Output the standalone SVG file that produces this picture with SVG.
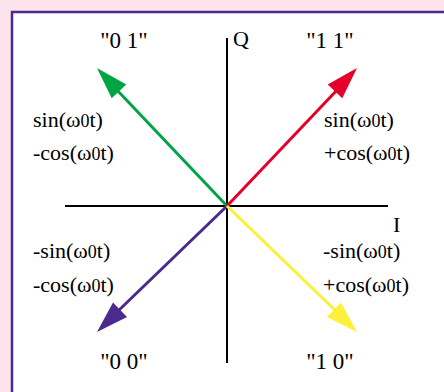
<svg xmlns="http://www.w3.org/2000/svg" width="444" height="392" viewBox="0 0 444 392">
<style>
text{font-family:"Liberation Serif","Times New Roman","DejaVu Serif",serif;fill:#000}
.q{font-size:23px;text-anchor:middle}
.l{font-size:22px}
.s{font-size:18px}
.ax{stroke:#000;stroke-width:2;fill:none}
</style>
<rect x="0" y="0" width="444" height="392" fill="#fde4ec"/>
<rect x="12" y="12" width="440" height="390" fill="#fff" stroke="#4a2a8c" stroke-width="2.5"/>
<g id="axes">
<line class="ax" x1="227" y1="38" x2="227" y2="363"/>
<line class="ax" x1="65" y1="206" x2="388" y2="206"/>
<text x="233" y="46" style="font-size:22px">Q</text>
<text x="393" y="232" style="font-size:22px">I</text>
</g>
<g id="connectors" stroke-width="3">
<line x1="227" y1="206" x2="116" y2="89" stroke="#00a444"/>
<polygon points="97,68 126.3,84.4 111.7,98.2" fill="#00a444"/>
<line x1="227" y1="206" x2="338" y2="89" stroke="#e4002b"/>
<polygon points="357,68 342.3,98.2 327.7,84.4" fill="#e4002b"/>
<line x1="227" y1="206" x2="117" y2="312" stroke="#4a2a8c"/>
<polygon points="97,332 127,316.9 113,302.5" fill="#4a2a8c"/>
<line x1="227" y1="206" x2="337" y2="312" stroke="#fbf03a"/>
<polygon points="357,332 327,316.9 341,302.5" fill="#fbf03a"/>
</g>
<g id="n01"><text class="q" x="124" y="48">"0 1"</text></g>
<g id="n11"><text class="q" x="330" y="48">"1 1"</text></g>
<g id="n00"><text class="q" x="124" y="369">"0 0"</text></g>
<g id="n10"><text class="q" x="330" y="369">"1 0"</text></g>
<g id="l01">
<text class="l" x="33" y="127">sin(ω<tspan class="s">0</tspan>t)</text>
<text class="l" x="33" y="160">-cos(ω<tspan class="s">0</tspan>t)</text>
</g>
<g id="l11">
<text class="l" x="324" y="127">sin(ω<tspan class="s">0</tspan>t)</text>
<text class="l" x="324" y="160">+cos(ω<tspan class="s">0</tspan>t)</text>
</g>
<g id="l00">
<text class="l" x="33" y="258">-sin(ω<tspan class="s">0</tspan>t)</text>
<text class="l" x="33" y="292">-cos(ω<tspan class="s">0</tspan>t)</text>
</g>
<g id="l10">
<text class="l" x="323" y="258">-sin(ω<tspan class="s">0</tspan>t)</text>
<text class="l" x="323" y="292">+cos(ω<tspan class="s">0</tspan>t)</text>
</g>
</svg>
